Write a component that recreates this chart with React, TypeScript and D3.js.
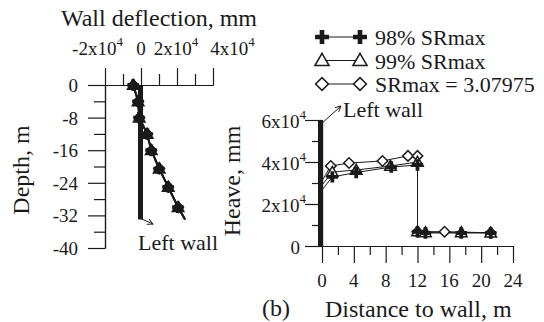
import React, { useEffect, useRef } from "react";
import * as d3 from "d3";

// left panel: wall deflection vs depth
const deflDepth = [0, -4, -8, -12, -16, -20.5, -25, -30, -33];
const defl98 = [-4400, -1700, -1100, 3300, 5600, 10000, 15000, 20500, 24400];
const defl99 = [-4300, -1600, -1000, 3400, 5700, 10100, 15100, 20600, 24500];
const deflSR = [-4200, -1500, -900, 3500, 5800, 10200, 15200, 20700, 24600];
const wallDepth = [0, -33];

// right panel: heave vs distance to wall
const dist98 = [0, 1.3, 4.3, 8.7, 12, 12, 13, 17.5, 21.2];
const heave98 = [26700, 32900, 35000, 37600, 38600, 6700, 6200, 6200, 6200];
const dist99 = [0, 1.3, 4.3, 8.6, 12, 12, 13, 17.5, 21.2];
const heave99 = [29000, 35200, 36200, 38100, 40000, 6900, 6500, 6500, 6300];
const distSR = [0, 1.1, 3.4, 7.6, 10.8, 12, 12, 15.4, 21.2];
const heaveSR = [31000, 38100, 39500, 40500, 42900, 42900, 6800, 6800, 6300];
const wallHeave = [0, 60000];

const deflTicks = [-20000, 0, 20000, 40000];
const depthTicks = [0, -8, -16, -24, -32, -40];
const distTicks = [0, 4, 8, 12, 16, 20, 24];
const heaveTicks = [0, 20000, 40000, 60000];

const legendLabels = ["98% SRmax", "99% SRmax", "SRmax = 3.07975"];

const FONT = "Liberation Serif, Times New Roman, serif";
const INK = "#1a1a1a";

export default function App() {
  const ref = useRef<SVGSVGElement>(null);

  useEffect(() => {
    const svg = d3.select(ref.current);
    svg.selectAll("*").remove();
    svg.style("font-family", FONT).attr("fill", INK);

    const xL = d3.scaleLinear().domain([-20000, 40000]).range([105, 213]);
    const yL = d3.scaleLinear().domain([-40, 0]).range([248, 85]);
    const xR = d3.scaleLinear().domain([0, 24]).range([322, 513]);
    const yR = d3.scaleLinear().domain([0, 60000]).range([246, 120]);

    const styleAxis = (g: any) => {
      g.selectAll("path, line").attr("stroke", INK).attr("stroke-width", 1.2);
      g.selectAll("text").remove();
    };

    // left axes
    svg.append("g").attr("transform", `translate(0,${yL(0)})`)
      .call(d3.axisTop(xL).tickValues(deflTicks).tickSize(17).tickSizeOuter(0)).call(styleAxis);
    svg.append("g").attr("transform", `translate(0,${yL(0)})`)
      .call(d3.axisTop(xL).tickValues([-10000, 10000, 30000]).tickSize(11).tickSizeOuter(0)).call(styleAxis);
    svg.append("g").attr("transform", `translate(${xL(-20000)},0)`)
      .call(d3.axisLeft(yL).tickValues(depthTicks).tickSize(17).tickSizeOuter(0)).call(styleAxis);
    svg.append("g").attr("transform", `translate(${xL(-20000)},0)`)
      .call(d3.axisLeft(yL).tickValues([-4, -12, -20, -28, -36]).tickSize(11).tickSizeOuter(0)).call(styleAxis);

    // right axes
    svg.append("g").attr("transform", `translate(0,${yR(0)})`)
      .call(d3.axisBottom(xR).tickValues(distTicks).tickSize(17).tickSizeOuter(0)).call(styleAxis);
    svg.append("g").attr("transform", `translate(0,${yR(0)})`)
      .call(d3.axisBottom(xR).tickValues([2, 6, 10, 14, 18, 22]).tickSize(9).tickSizeOuter(0)).call(styleAxis);
    svg.append("g").attr("transform", `translate(${xR(0)},0)`)
      .call(d3.axisLeft(yR).tickValues(heaveTicks).tickSize(17).tickSizeOuter(0)).call(styleAxis);
    svg.append("g").attr("transform", `translate(${xR(0)},0)`)
      .call(d3.axisLeft(yR).tickValues([10000, 30000, 50000]).tickSize(10).tickSizeOuter(0)).call(styleAxis);

    const sci = (t: any, v: number) => {
      if (v === 0) {
        t.text("0");
        return;
      }
      t.append("tspan").text(`${v / 10000}x10`);
      t.append("tspan").attr("dy", -9).attr("font-size", 13).text("4");
    };

    // left tick labels
    const topShift = [-7.5, 0, -1, 19.5];
    deflTicks.forEach((v, i) => {
      const t = svg.append("text").attr("x", xL(v) + topShift[i]).attr("y", yL(0) - 30)
        .attr("font-size", 19).attr("text-anchor", "middle");
      sci(t, v);
    });
    depthTicks.forEach((v) => {
      svg.append("text").attr("x", 78).attr("y", yL(v) + 7)
        .attr("font-size", 19).attr("text-anchor", "end").text(String(v));
    });

    // right tick labels
    distTicks.forEach((v) => {
      svg.append("text").attr("x", xR(v)).attr("y", 287)
        .attr("font-size", 19).attr("text-anchor", "middle").text(String(v));
    });
    heaveTicks.forEach((v) => {
      const t = svg.append("text").attr("x", v === 0 ? 300 : 306).attr("y", yR(v) + 8)
        .attr("font-size", 19).attr("text-anchor", "end");
      sci(t, v);
    });

    // titles
    svg.append("text").attr("x", 159).attr("y", 26).attr("font-size", 24)
      .attr("text-anchor", "middle").text("Wall deflection, mm");
    svg.append("text").attr("transform", "translate(29,170) rotate(-90)").attr("font-size", 24)
      .attr("text-anchor", "middle").text("Depth, m");
    svg.append("text").attr("transform", "translate(240,181) rotate(-90)").attr("font-size", 24)
      .attr("text-anchor", "middle").text("Heave, mm");
    svg.append("text").attr("x", 325).attr("y", 317).attr("font-size", 24).text("Distance to wall, m");
    svg.append("text").attr("x", 262).attr("y", 316).attr("font-size", 24).text("(b)");

    // walls
    svg.append("rect").attr("x", xL(0) - 3).attr("width", 5)
      .attr("y", yL(wallDepth[0])).attr("height", yL(wallDepth[1]) - yL(wallDepth[0])).attr("fill", INK);
    svg.append("rect").attr("x", xR(0) - 4).attr("width", 5)
      .attr("y", yR(wallHeave[1])).attr("height", yR(wallHeave[0]) - yR(wallHeave[1])).attr("fill", INK);

    // markers
    const marker = (kind: string, x: number, y: number, big = 1, solid = false) => {
      const fill = solid ? INK : "white";
      if (kind === "p") {
        const d = d3.symbol().type(d3.symbolCross).size(72 * big)();
        svg.append("path").attr("d", d).attr("transform", `translate(${x},${y})`).attr("fill", INK);
      } else if (kind === "t") {
        const d = d3.symbol().type(d3.symbolTriangle).size(58 * big)();
        svg.append("path").attr("d", d).attr("transform", `translate(${x},${y + 1})`)
          .attr("fill", fill).attr("stroke", INK).attr("stroke-width", 1.5);
      } else {
        const d = d3.symbol().type(d3.symbolSquare).size(55 * big)();
        svg.append("path").attr("d", d).attr("transform", `translate(${x},${y}) rotate(45)`)
          .attr("fill", fill).attr("stroke", INK).attr("stroke-width", 1.5);
      }
    };

    // left series (overlapping markers read as solid blobs)
    const lineL = d3.line<number>().x((d) => xL(d)).y((_, i) => yL(deflDepth[i]));
    const leftSeries: [number[], string][] = [[deflSR, "d"], [defl99, "t"], [defl98, "p"]];
    leftSeries.forEach(([vals]) => {
      svg.append("path").attr("d", lineL(vals)).attr("fill", "none").attr("stroke", INK).attr("stroke-width", 1.8);
    });
    leftSeries.forEach(([vals, k]) => {
      vals.slice(0, -1).forEach((v, i) => marker(k, xL(v), yL(deflDepth[i]), 1, true));
    });

    // right series
    const rightSeries: [number[], number[], string][] = [
      [distSR, heaveSR, "d"],
      [dist99, heave99, "t"],
      [dist98, heave98, "p"],
    ];
    rightSeries.forEach(([xs, ys]) => {
      const line = d3.line<number>().x((d) => xR(d)).y((_, i) => yR(ys[i]));
      svg.append("path").attr("d", line(xs)).attr("fill", "none").attr("stroke", INK).attr("stroke-width", 1);
    });
    rightSeries.forEach(([xs, ys, k]) => {
      xs.forEach((v, i) => {
        if (v > 0) marker(k, xR(v), yR(ys[i]));
      });
    });

    // legend
    const kinds = ["p", "t", "d"];
    legendLabels.forEach((lab, i) => {
      const y = 37 + i * 23.5;
      svg.append("line").attr("x1", 322).attr("x2", 360).attr("y1", y).attr("y2", y)
        .attr("stroke", INK).attr("stroke-width", 1);
      marker(kinds[i], 322, y, 1.5);
      marker(kinds[i], 360, y, 1.5);
      svg.append("text").attr("x", 375).attr("y", y + 8).attr("font-size", 22).text(lab);
    });

    // "Left wall" annotations
    svg.append("defs").append("marker").attr("id", "arr").attr("viewBox", "0 0 10 10")
      .attr("refX", 9).attr("refY", 5).attr("markerWidth", 7).attr("markerHeight", 7)
      .attr("orient", "auto")
      .append("path").attr("d", "M1,1 L9,5 L1,9").attr("fill", "none").attr("stroke", INK).attr("stroke-width", 1.3);
    svg.append("line").attr("x1", xL(0)).attr("y1", yL(-32.8)).attr("x2", 153).attr("y2", 224)
      .attr("stroke", INK).attr("stroke-width", 1).attr("marker-end", "url(#arr)");
    svg.append("text").attr("x", 138).attr("y", 250).attr("font-size", 22).text("Left wall");
    svg.append("line").attr("x1", xR(0)).attr("y1", yR(58500)).attr("x2", 341).attr("y2", 106)
      .attr("stroke", INK).attr("stroke-width", 1).attr("marker-end", "url(#arr)");
    svg.append("text").attr("x", 343).attr("y", 117).attr("font-size", 22).text("Left wall");
  }, []);

  return (
    <svg
      ref={ref}
      width={544}
      height={322}
      style={{ position: "absolute", left: 0, top: 0, background: "white" }}
    ></svg>
  );
}
